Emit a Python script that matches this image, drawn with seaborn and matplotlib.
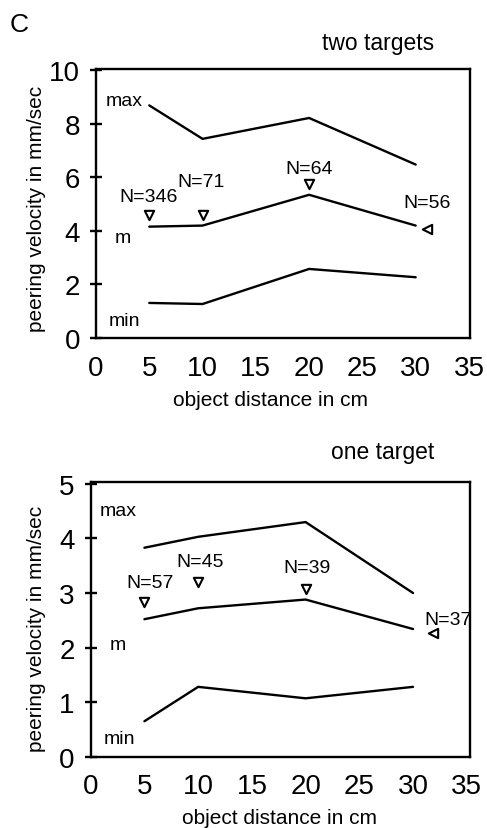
import matplotlib
matplotlib.use("Agg")
import matplotlib.pyplot as plt
import seaborn as sns
import pandas as pd

# ---- data ----
distance = [5, 10, 20, 30]

two_max = [8.69, 7.44, 8.22, 6.48]
two_m = [4.16, 4.20, 5.35, 4.20]
two_min = [1.31, 1.27, 2.58, 2.27]
two_tri_x = [5, 10, 20]
two_tri_y = [4.6, 4.6, 5.76]
two_side_x = [31.1]
two_side_y = [4.08]
two_n_labels = ["N=346", "N=71", "N=64", "N=56"]
two_n_x = [4.9, 9.9, 20.0, 31.1]
two_n_y = [5.3, 5.85, 6.35, 5.05]

one_max = [3.83, 4.03, 4.30, 3.00]
one_m = [2.52, 2.72, 2.88, 2.34]
one_min = [0.65, 1.28, 1.07, 1.28]
one_tri_x = [5, 10, 20]
one_tri_y = [2.84, 3.2, 3.08]
one_side_x = [31.9]
one_side_y = [2.26]
one_n_labels = ["N=57", "N=45", "N=39", "N=37"]
one_n_x = [5.5, 10.2, 20.1, 33.3]
one_n_y = [3.19, 3.57, 3.46, 2.52]

x_ticks = [0, 5, 10, 15, 20, 25, 30, 35]
two_y_ticks = [0, 2, 4, 6, 8, 10]
one_y_ticks = [0, 1, 2, 3, 4, 5]

sns.set_style("ticks")
plt.rcParams["font.family"] = ["Liberation Sans", "DejaVu Sans"]
plt.rcParams["text.color"] = "black"
plt.rcParams["axes.labelcolor"] = "black"
plt.rcParams["xtick.color"] = "black"
plt.rcParams["ytick.color"] = "black"
plt.rcParams["axes.edgecolor"] = "black"

fig = plt.figure(figsize=(4.87, 8.29), dpi=100)
ax1 = fig.add_axes([96 / 487, 1 - 339 / 829, 374 / 487, 269 / 829])
ax2 = fig.add_axes([90.7 / 487, 1 - 757.7 / 829, 379.3 / 487, 275 / 829])


def draw(ax, vmax, vm, vmin, tx, ty, sx, sy, labels, lx, ly, yticks, ylim, xlim,
         lbl_pos, title, title_x, title_y, xlab_xy, ylab_xy):
    for vals in (vmax, vm, vmin):
        df = pd.DataFrame({"d": distance, "v": vals})
        sns.lineplot(data=df, x="d", y="v", ax=ax, color="black", lw=1.7)
    sns.scatterplot(x=tx, y=ty, ax=ax, marker="v", s=45, facecolor="white",
                    edgecolor="black", linewidth=1.5, zorder=5)
    sns.scatterplot(x=sx, y=sy, ax=ax, marker="<", s=45, facecolor="white",
                    edgecolor="black", linewidth=1.5, zorder=5)
    for t, x, y in zip(labels, lx, ly):
        ax.text(x, y, t, ha="center", va="center", fontsize=14)
    for t, (x, y) in zip(["max", "m", "min"], lbl_pos):
        ax.text(x, y, t, ha="center", va="center", fontsize=14)
    ax.set_xlim(*xlim)
    ax.set_ylim(*ylim)
    ax.set_xticks(x_ticks)
    ax.set_yticks(yticks)
    ax.tick_params(axis="x", length=0, labelsize=20, pad=12)
    ax.tick_params(axis="y", direction="inout", length=9, width=1.7,
                   labelsize=20, pad=7)
    for s in ax.spines.values():
        s.set_visible(True)
        s.set_linewidth(1.7)
    ax.set_xlabel("object distance in cm", fontsize=15)
    ax.set_ylabel("peering velocity in mm/sec", fontsize=15)
    ax.xaxis.set_label_coords(*xlab_xy)
    ax.yaxis.set_label_coords(*ylab_xy)
    ax.xaxis.label.set_va("center")
    ax.yaxis.label.set_va("center")
    ax.text(title_x, title_y, title, transform=ax.transAxes, ha="center",
            va="center", fontsize=16.5)


draw(ax1, two_max, two_m, two_min, two_tri_x, two_tri_y, two_side_x, two_side_y,
     two_n_labels, two_n_x, two_n_y, two_y_ticks, (0, 10.05), (0.24, 35.1),
     [(2.6, 8.88), (2.5, 3.74), (2.7, 0.65)], "two targets", 0.755, 1.1,
     (0.467, -0.227), (-0.158, 0.485))
draw(ax2, one_max, one_m, one_min, one_tri_x, one_tri_y, one_side_x, one_side_y,
     one_n_labels, one_n_x, one_n_y, one_y_ticks, (0, 5.04), (0.31, 35.3),
     [(2.56, 4.52), (2.56, 2.06), (2.7, 0.34)], "one target", 0.77, 1.11,
     (0.498, -0.22), (-0.142, 0.47))

fig.text(10 / 487, 1 - 25 / 829, "C", fontsize=19, ha="left", va="center")

fig.savefig("out.png", dpi=100)
